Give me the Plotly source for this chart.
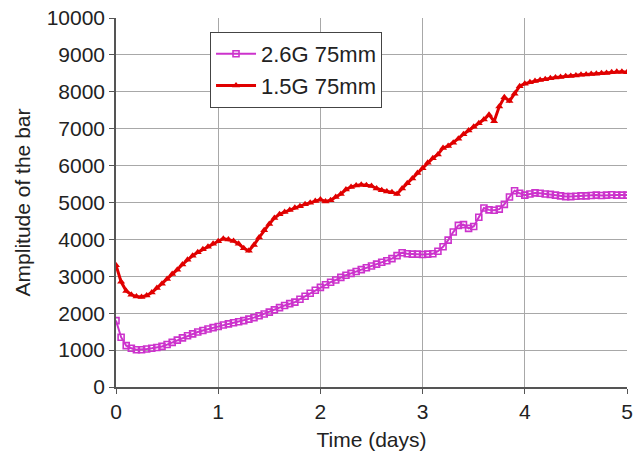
import plotly.graph_objects as go

# Time axis (days), sampled every 0.05 day
time_days = [round(i * 0.05, 2) for i in range(101)]

# 2.6G 75mm bar amplitude
amp_26g = [
    1800, 1350, 1120, 1050, 1010, 1010, 1030, 1050, 1070, 1100,
    1150, 1210, 1270, 1330, 1390, 1440, 1490, 1530, 1570, 1610,
    1640, 1680, 1710, 1740, 1770, 1800, 1840, 1880, 1930, 1980,
    2030, 2090, 2150, 2210, 2260, 2300, 2380, 2460, 2540, 2620,
    2700, 2770, 2840, 2900, 2970, 3030, 3080, 3130, 3180, 3230,
    3280, 3330, 3380, 3420, 3480, 3560, 3640, 3610, 3600, 3600,
    3590, 3600, 3610, 3680, 3800, 3980, 4200, 4380, 4400, 4300,
    4350, 4600, 4850, 4800, 4790, 4820, 4950, 5150, 5320, 5250,
    5200, 5230, 5260, 5250, 5230, 5220, 5200, 5180, 5160, 5160,
    5170, 5180, 5180, 5190, 5200, 5190, 5200, 5210, 5200, 5200,
    5200,
]

# 1.5G 75mm bar amplitude
amp_15g = [
    3300, 2850, 2600, 2500, 2450, 2440, 2480, 2560, 2680, 2800,
    2930, 3060, 3180, 3320, 3450, 3560, 3650, 3730, 3800, 3880,
    3950, 4020, 4000, 3960, 3880, 3760, 3690, 3850, 4050, 4250,
    4420, 4580, 4680, 4740, 4800, 4860, 4900, 4950, 4990, 5040,
    5080, 5030, 5060, 5150, 5230, 5350, 5420, 5460, 5480, 5470,
    5450, 5380, 5330, 5300, 5280, 5230, 5380, 5520, 5650, 5800,
    5930, 6080, 6200, 6300, 6480, 6530, 6620, 6730, 6850, 6950,
    7050, 7150, 7250, 7380, 7200, 7600, 7850, 7750, 7950, 8150,
    8220, 8260, 8290, 8320, 8340, 8370, 8390, 8400, 8420, 8430,
    8440, 8460, 8470, 8480, 8490, 8500, 8510, 8530, 8540, 8540,
    8530,
]

x_ticks = [0, 1, 2, 3, 4, 5]
y_ticks = list(range(0, 10001, 1000))
y_tick_labels = [str(v) for v in y_ticks]

FONT = "Liberation Sans, Arial, sans-serif"

fig = go.Figure()
fig.add_trace(go.Scatter(
    x=time_days, y=amp_26g, name="2.6G 75mm", mode="lines+markers",
    line=dict(color="#cc33cc", width=2),
    marker=dict(symbol="square-open", size=6, color="#cc33cc",
                line=dict(width=1.6, color="#cc33cc")),
))
fig.add_trace(go.Scatter(
    x=time_days, y=amp_15g, name="1.5G 75mm", mode="lines+markers",
    line=dict(color="#e00000", width=3),
    marker=dict(symbol="triangle-up", size=7, color="#e00000"),
))

axis_common = dict(
    showgrid=True, gridcolor="#a8a8a8", gridwidth=1,
    showline=True, linecolor="#555555", linewidth=1.5,
    ticks="outside", ticklen=5, tickcolor="#555555",
    tickfont=dict(family=FONT, size=21, color="#222222"),
    zeroline=False,
)

fig.update_layout(
    width=639, height=457,
    margin=dict(l=116, r=6, t=15, b=70),
    paper_bgcolor="white", plot_bgcolor="white",
    font=dict(family=FONT, color="#222222"),
    xaxis=dict(range=[0, 5], tickvals=x_ticks,
               title=dict(text="Time (days)", font=dict(family=FONT, size=21), standoff=10),
               **axis_common),
    yaxis=dict(range=[0, 10000], tickvals=y_ticks, ticktext=y_tick_labels,
               title=dict(text="Amplitude of the bar", font=dict(family=FONT, size=21), standoff=10),
               **axis_common),
    legend=dict(
        x=0.184, y=0.962, xanchor="left", yanchor="top",
        bgcolor="white", bordercolor="#444444", borderwidth=1,
        font=dict(family=FONT, size=22, color="#222222"),
        tracegroupgap=0, itemwidth=40,
    ),
    showlegend=True,
)

fig.write_html("out.html")
